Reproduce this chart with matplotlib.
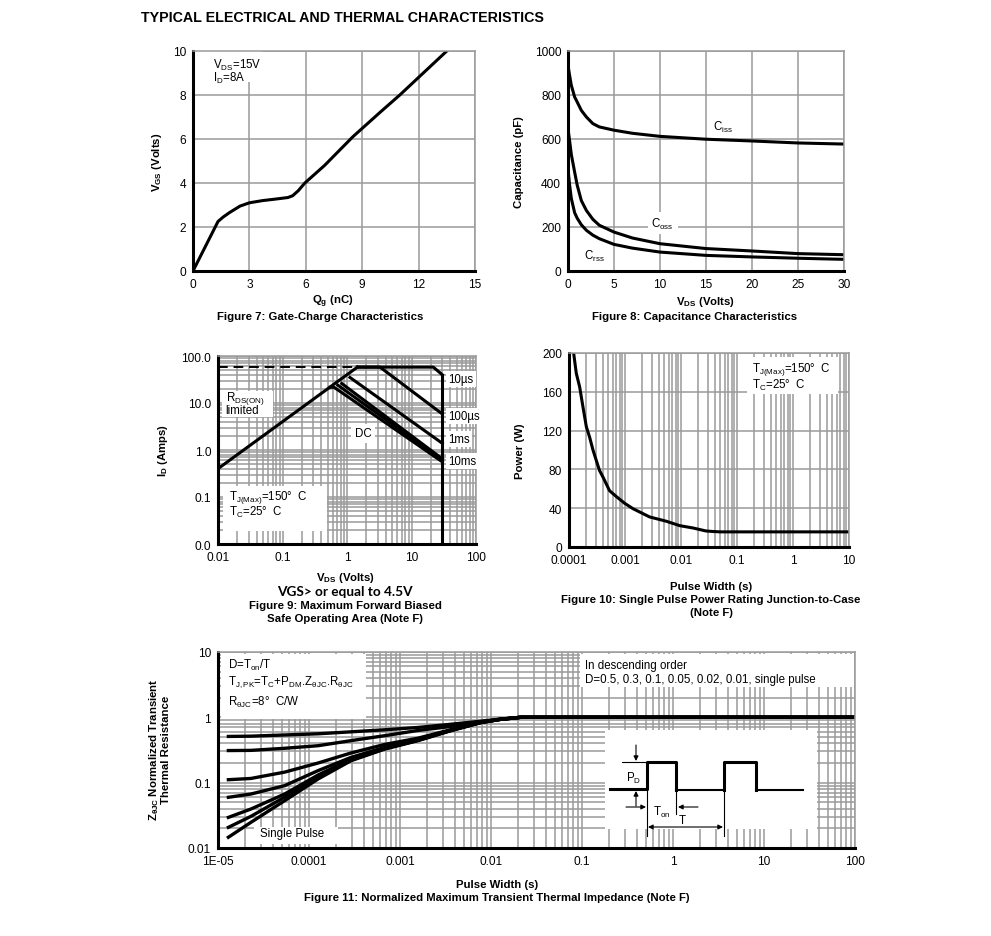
"""
Typical electrical and thermal characteristics (datasheet page, figures 7-11)
"""
import matplotlib
matplotlib.use('Agg')
import matplotlib.pyplot as plt
from matplotlib.patches import Rectangle
from matplotlib.ticker import NullFormatter

# fonts: Arial-like text, subscripts through mathtext
plt.rcParams['font.family'] = ['Liberation Sans', 'DejaVu Sans']
plt.rcParams['mathtext.fontset'] = 'custom'
plt.rcParams['mathtext.rm'] = 'Liberation Sans'
plt.rcParams['mathtext.it'] = 'Liberation Sans'
plt.rcParams['mathtext.bf'] = 'Liberation Sans:bold'
plt.rcParams['mathtext.default'] = 'regular'

# ---- data ----
# Figure 7: gate charge
qg = [0, 1.33, 1.6, 1.95, 2.5, 3.0, 3.7, 4.4, 5.05, 5.3, 5.6, 5.95, 7.0, 8.5, 10.0, 11.0, 12.0, 13.5]
vgs = [0, 2.25, 2.45, 2.66, 2.95, 3.1, 3.2, 3.27, 3.34, 3.42, 3.65, 4.0, 4.8, 6.1, 7.25, 8.0, 8.8, 10.0]

# Figure 8: capacitance
vds = [0, 0.15, 0.36, 0.72, 1.0, 1.45, 2.0, 2.7, 3.4, 5, 7, 10, 15, 20, 25, 30]
ciss = [935, 895, 844, 791, 768, 730, 700, 670, 655, 640, 626, 612, 599, 591, 582, 577]
coss = [647, 600, 530, 450, 390, 320, 275, 235, 208, 177, 150, 124, 102, 91, 79, 74]
crss = [465, 400, 330, 265, 240, 210, 185, 163, 147, 121, 104, 86, 71, 64, 58, 53]

# Figure 9: safe operating area
rds_v, rds_i = [0.01, 1.45], [0.40, 58]
lim_v, lim_i = [0.01, 1.45], [58, 58]
soa_10us_v, soa_10us_i = [1.45, 21.8, 30], [58, 58, 39.9]
soa_100us_v, soa_100us_i = [1.45, 3.25, 30], [58, 58, 5.84]
soa_1ms_v, soa_1ms_i = [1.11, 30], [35, 1.39]
soa_10ms_v, soa_10ms_i = [0.83, 30], [26, 0.65]
soa_100ms_v, soa_100ms_i = [0.72, 30], [24, 0.61]
soa_dc_v, soa_dc_i = [0.55, 0.63, 30], [21.6, 21.6, 0.56]
vmax_v, vmax_i = [30, 30], [0.01, 39.9]

# Figure 10: single pulse power
tp = [1.21e-4, 1.35e-4, 1.55e-4, 1.78e-4, 2.04e-4, 2.34e-4, 2.68e-4, 3.08e-4, 3.5e-4, 4.05e-4,
      5.3e-4, 7e-4, 9.9e-4, 1.39e-3, 2.75e-3, 5.5e-3, 9.5e-3, 0.0164, 0.028, 0.037, 0.05, 10]
pw = [200, 179, 165, 144, 124, 113, 100, 89, 79, 72,
      58, 52, 45, 39.5, 31, 26.5, 22, 19.6, 16.5, 16.0, 15.6, 15.6]

# Figure 11: transient thermal impedance
tz = [1.3e-5, 2.3e-5, 5.4e-5, 1.26e-4, 2.9e-4, 6.8e-4, 1.58e-3, 3.5e-3, 7.6e-3, 1.26e-2, 2.1e-2, 100]
z_d50 = [0.51, 0.515, 0.537, 0.56, 0.60, 0.645, 0.70, 0.78, 0.87, 0.94, 1.0, 1.0]
z_d30 = [0.31, 0.312, 0.336, 0.368, 0.44, 0.524, 0.63, 0.72, 0.85, 0.935, 1.0, 1.0]
z_d10 = [0.111, 0.116, 0.145, 0.20, 0.285, 0.385, 0.48, 0.64, 0.84, 0.93, 1.0, 1.0]
z_d05 = [0.0597, 0.067, 0.09, 0.153, 0.244, 0.347, 0.455, 0.63, 0.835, 0.93, 1.0, 1.0]
z_d02 = [0.0294, 0.0395, 0.067, 0.131, 0.23, 0.336, 0.45, 0.625, 0.83, 0.93, 1.0, 1.0]
z_d01 = [0.0207, 0.0305, 0.060, 0.122, 0.222, 0.331, 0.445, 0.62, 0.83, 0.93, 1.0, 1.0]
z_single = [0.0146, 0.0247, 0.053, 0.114, 0.217, 0.327, 0.44, 0.615, 0.825, 0.93, 1.0, 1.0]

GRID = '#9a9a9a'
W, H = 991, 937
FS = 8.3      # text inside the charts
FL = 8.2      # axis labels and captions


def pos(x0, y0, x1, y1):
    # pixel box -> figure fraction
    return [x0 / W, 1 - y1 / H, (x1 - x0) / W, (y1 - y0) / H]


def fx(x):
    return x / W


def fy(y):
    return 1 - y / H


def style(ax, minor=False):
    ax.set_axisbelow(True)
    for s in ['left', 'bottom']:
        ax.spines[s].set_linewidth(2.2)
        ax.spines[s].set_color('black')
    for s in ['top', 'right']:
        ax.spines[s].set_linewidth(1.1)
        ax.spines[s].set_color(GRID)
    ax.tick_params(which='both', length=0, labelsize=8.6, pad=5)
    ax.grid(True, which='major', color=GRID, lw=1.1)
    if minor:
        ax.grid(True, which='minor', color=GRID, lw=1.1)


def white_box(ax, x0, y0, x1, y1):
    ax.add_patch(Rectangle((x0, y0), x1 - x0, y1 - y0, transform=ax.transAxes,
                           fc='white', ec='none', zorder=1))


fig = plt.figure(figsize=(9.91, 9.37), dpi=100)
fig.text(fx(141), fy(18), 'TYPICAL ELECTRICAL AND THERMAL CHARACTERISTICS',
         fontsize=10.3, fontweight='bold', va='center')

lab = dict(fontsize=FL, fontweight='bold', ha='center', va='center')

# ---- Figure 7 ----
ax7 = fig.add_axes(pos(193, 52, 475, 272))
style(ax7)
ax7.plot(qg, vgs, color='black', lw=2.2)
ax7.set_xlim(0, 15)
ax7.set_ylim(0, 10)
ax7.set_xticks(range(0, 16, 3))
ax7.set_yticks(range(0, 11, 2))
white_box(ax7, 0, 0.86, 0.245, 1)
ax7.text(0.07, 0.94, 'V$_{DS}$=15V', transform=ax7.transAxes, fontsize=FS, va='center')
ax7.text(0.07, 0.88, 'I$_D$=8A', transform=ax7.transAxes, fontsize=FS, va='center')
fig.text(fx(333), fy(302), r'Q$_\mathbf{g}$ (nC)', **lab)
fig.text(fx(320), fy(317), 'Figure 7: Gate-Charge Characteristics', **lab)
fig.text(fx(157), fy(162), r'V$_\mathbf{GS}$ (Volts)', rotation=90, **lab)

# ---- Figure 8 ----
ax8 = fig.add_axes(pos(568, 52, 844, 272))
style(ax8)
for c in (ciss, coss, crss):
    ax8.plot(vds, c, color='black', lw=2.2)
ax8.set_xlim(0, 30)
ax8.set_ylim(0, 1000)
ax8.set_xticks(range(0, 31, 5))
ax8.set_yticks(range(0, 1001, 200))
ax8.text(16.8, 659, 'C$_{iss}$', fontsize=FS, ha='center', va='center')
ax8.text(10.3, 218, 'C$_{oss}$', fontsize=FS, ha='center', va='center', zorder=3,
         bbox=dict(fc='white', ec='none', pad=2.5))
ax8.text(2.83, 72, 'C$_{rss}$', fontsize=FS, ha='center', va='center')
fig.text(fx(705), fy(302), r'V$_\mathbf{DS}$ (Volts)', **lab)
fig.text(fx(695), fy(317), 'Figure 8: Capacitance Characteristics', **lab)
fig.text(fx(519), fy(162), 'Capacitance (pF)', rotation=90, **lab)

# ---- Figure 9 ----
ax9 = fig.add_axes(pos(218, 357, 476, 545))
style(ax9, minor=True)
ax9.set_xscale('log')
ax9.set_yscale('log')
ax9.set_xlim(0.01, 100)
ax9.set_ylim(0.01, 100)
ax9.set_xticks([0.01, 0.1, 1, 10, 100], ['0.01', '0.1', '1', '10', '100'])
ax9.set_yticks([0.01, 0.1, 1, 10, 100], ['0.0', '0.1', '1.0', '10.0', '100.0'])
ax9.xaxis.set_minor_formatter(NullFormatter())
ax9.yaxis.set_minor_formatter(NullFormatter())
ax9.plot(lim_v, lim_i, color='black', lw=1.4, ls=(0, (5, 3)))
for v, i in [(rds_v, rds_i), (soa_10us_v, soa_10us_i), (soa_100us_v, soa_100us_i),
             (soa_1ms_v, soa_1ms_i), (soa_10ms_v, soa_10ms_i), (soa_100ms_v, soa_100ms_i),
             (soa_dc_v, soa_dc_i), (vmax_v, vmax_i)]:
    ax9.plot(v, i, color='black', lw=2.2)
white_box(ax9, 0.014, 0.674, 0.214, 0.815)
white_box(ax9, 0.021, 0.071, 0.421, 0.31)
ax9.text(0.03, 0.78, 'R$_{DS(ON)}$', transform=ax9.transAxes, fontsize=FS, va='center')
ax9.text(0.03, 0.712, 'limited', transform=ax9.transAxes, fontsize=FS, va='center')
ax9.text(0.043, 0.255, 'T$_{J(Max)}$=150°  C', transform=ax9.transAxes, fontsize=FS, va='center')
ax9.text(0.043, 0.175, 'T$_C$=25°  C', transform=ax9.transAxes, fontsize=FS, va='center')
tb = dict(fc='white', ec='none', pad=1.5)
for y, s in [(0.878, '10µs'), (0.681, '100µs'), (0.559, '1ms'), (0.441, '10ms')]:
    ax9.text(0.893, y, s, transform=ax9.transAxes, fontsize=FS, va='center', zorder=3, bbox=tb)
ax9.text(0.562, 0.59, 'DC', transform=ax9.transAxes, fontsize=FS, ha='center', va='center',
         zorder=3, bbox=dict(fc='white', ec='none', pad=2.5))
fig.text(fx(345), fy(578), r'V$_\mathbf{DS}$ (Volts)', **lab)
fig.text(fx(345), fy(592), 'VGS> or equal to 4.5V', fontsize=9.8, fontweight='bold',
         ha='center', va='center', family=['Lato', 'DejaVu Sans'])
fig.text(fx(345), fy(606), 'Figure 9: Maximum Forward Biased', **lab)
fig.text(fx(345), fy(619), 'Safe Operating Area (Note F)', **lab)
fig.text(fx(163), fy(451), r'I$_\mathbf{D}$ (Amps)', rotation=90, **lab)

# ---- Figure 10 ----
ax10 = fig.add_axes(pos(569, 354, 849, 548))
style(ax10)
ax10.set_xscale('log')
ax10.set_xlim(1e-4, 10)
ax10.set_ylim(0, 200)
ax10.grid(True, which='minor', axis='x', color=GRID, lw=1.1)
ax10.set_xticks([1e-4, 1e-3, 1e-2, 0.1, 1, 10], ['0.0001', '0.001', '0.01', '0.1', '1', '10'])
ax10.xaxis.set_minor_formatter(NullFormatter())
ax10.set_yticks(range(0, 201, 40))
ax10.plot(tp, pw, color='black', lw=2.2)
white_box(ax10, 0.635, 0.789, 0.962, 0.978)
ax10.text(0.655, 0.918, 'T$_{J(Max)}$=150°  C', transform=ax10.transAxes, fontsize=FS, va='center')
ax10.text(0.655, 0.84, 'T$_C$=25°  C', transform=ax10.transAxes, fontsize=FS, va='center')
fig.text(fx(711), fy(587), 'Pulse Width (s)', **lab)
fig.text(fx(711), fy(600), 'Figure 10: Single Pulse Power Rating Junction-to-Case', **lab)
fig.text(fx(711), fy(613), '(Note F)', **lab)
fig.text(fx(520), fy(451), 'Power (W)', rotation=90, **lab)

# ---- Figure 11 ----
ax11 = fig.add_axes(pos(218, 653, 855, 849))
style(ax11, minor=True)
ax11.set_xscale('log')
ax11.set_yscale('log')
ax11.set_xlim(1e-5, 100)
ax11.set_ylim(0.01, 10)
ax11.set_xticks([1e-5, 1e-4, 1e-3, 1e-2, 0.1, 1, 10, 100],
                ['1E-05', '0.0001', '0.001', '0.01', '0.1', '1', '10', '100'])
ax11.set_yticks([0.01, 0.1, 1, 10], ['0.01', '0.1', '1', '10'])
ax11.xaxis.set_minor_formatter(NullFormatter())
ax11.yaxis.set_minor_formatter(NullFormatter())
for z in (z_d50, z_d30, z_d10, z_d05, z_d02, z_d01, z_single):
    ax11.plot(tz, z, color='black', lw=2.4)
white_box(ax11, 0.005, 0.658, 0.233, 0.99)
white_box(ax11, 0.568, 0.82, 0.998, 0.99)
white_box(ax11, 0.056, 0.02, 0.189, 0.106)
ax11.text(0.016, 0.935, 'D=T$_{on}$/T', transform=ax11.transAxes, fontsize=FS, va='center')
ax11.text(0.016, 0.85, r'T$_{J,PK}$=T$_C$+P$_{DM}$.Z$_{\theta JC}$.R$_{\theta JC}$',
          transform=ax11.transAxes, fontsize=FS, va='center')
ax11.text(0.016, 0.75, r'R$_{\theta JC}$=8°  C/W', transform=ax11.transAxes, fontsize=FS, va='center')
ax11.text(0.576, 0.935, 'In descending order', transform=ax11.transAxes, fontsize=FS, va='center')
ax11.text(0.576, 0.86, 'D=0.5, 0.3, 0.1, 0.05, 0.02, 0.01, single pulse',
          transform=ax11.transAxes, fontsize=FS, va='center')
ax11.text(0.066, 0.075, 'Single Pulse', transform=ax11.transAxes, fontsize=FS, va='center')
fig.text(fx(497), fy(885), 'Pulse Width (s)', **lab)
fig.text(fx(497), fy(898), 'Figure 11: Normalized Maximum Transient Thermal Impedance (Note F)', **lab)
fig.text(fx(159), fy(750), 'Z$_{\\mathbf{\\theta JC}}$ Normalized Transient\nThermal Resistance',
         rotation=90, linespacing=1.0, **lab)

# pulse sketch inside figure 11 (drawn in pixel units of the page)
axi = fig.add_axes(pos(605, 731, 817, 830))
axi.set_xlim(605, 817)
axi.set_ylim(830, 731)
axi.axis('off')
axi.add_patch(Rectangle((605, 731), 212, 99, fc='white', ec='none', zorder=0))
axi.plot([610, 647, 647, 676, 676], [790, 790, 763, 763, 791], color='black', lw=2.2)
axi.plot([676, 724], [791, 791], color='black', lw=1.5)
axi.plot([724, 724, 756, 756], [791, 763, 763, 791], color='black', lw=2.2)
axi.plot([756, 803], [791, 791], color='black', lw=1.5)
thin = dict(color='black', lw=0.8, clip_on=False)
axi.plot([622, 647], [763, 763], **thin)
axi.plot([647, 647], [791, 837], **thin)
axi.plot([676, 676], [791, 815], **thin)
axi.plot([724, 724], [791, 837], **thin)
arr = dict(arrowstyle='-|>', color='black', lw=0.8, mutation_scale=7, shrinkA=0, shrinkB=0)
axi.annotate('', xy=(636, 762), xytext=(636, 746), arrowprops=arr)
axi.annotate('', xy=(636, 792), xytext=(636, 807), arrowprops=arr)
axi.annotate('', xy=(646, 808), xytext=(626, 808), arrowprops=arr)
axi.annotate('', xy=(678, 808), xytext=(698, 808), arrowprops=arr)
axi.annotate('', xy=(723, 828), xytext=(648, 828),
             arrowprops=dict(arrowstyle='<|-|>', color='black', lw=0.8, mutation_scale=7,
                             shrinkA=0, shrinkB=0))
axi.text(634, 778, 'P$_D$', fontsize=FS, ha='center', va='center')
axi.text(662, 812, 'T$_{on}$', fontsize=FS, ha='center', va='center')
axi.text(682, 821, 'T', fontsize=FS, ha='center', va='center')

fig.savefig('out.png', dpi=100)
